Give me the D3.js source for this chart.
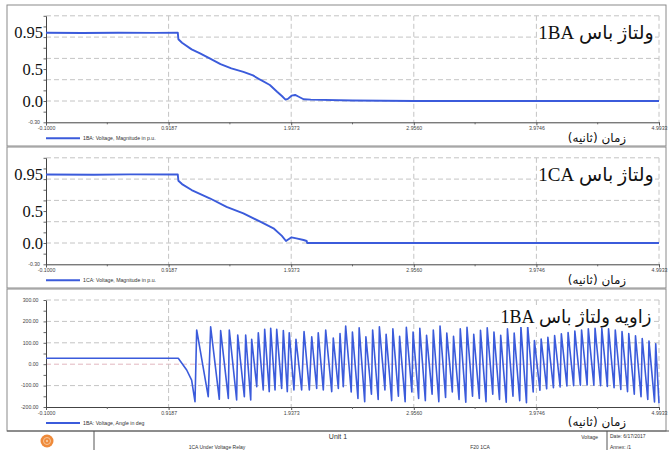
<!DOCTYPE html>
<html><head><meta charset="utf-8">
<script src="https://cdn.jsdelivr.net/npm/d3@7"></script>
<style>html,body{margin:0;padding:0;background:#fff;}svg{display:block;}</style>
</head><body>
<svg id="c" width="669" height="450"></svg>
<script>
// ---------- DATA ----------
const xTicks = [-0.1000, 0.9187, 1.9373, 2.9560, 3.9746, 4.9933];
const xTickLabels = ["-0.1000", "0.9187", "1.9373", "2.9560", "3.9746", "4.9933"];
const magGrid = [0, 0.3, 0.6, 0.9, 1.2];
const magBigVals = [0.97, 0.45, 0.0];
const magBigLabels = ["0.95", "0.5", "0.0"];
const angGrid = [-100, 0, 100, 200, 300];
const angTickVals = [300, 200, 100, 0, -100, -200];
const angTickLabels = ["300.00", "200.00", "100.00", "0.00", "-100.00", "-200.00"];

const baT = [-0.1, 0.2, 0.5, 0.8, 0.995, 1.0, 1.03, 1.11, 1.18, 1.26, 1.35, 1.44, 1.54, 1.62, 1.68, 1.76, 1.82, 1.86, 1.89, 1.91, 1.94, 1.97, 2.0, 2.04, 2.1, 2.45, 2.96, 4.9933];
const baV = [0.962, 0.958, 0.962, 0.960, 0.962, 0.87, 0.82, 0.727, 0.67, 0.60, 0.52, 0.46, 0.41, 0.36, 0.30, 0.225, 0.13, 0.07, 0.02, 0.03, 0.075, 0.085, 0.06, 0.025, 0.02, 0.008, 0.0, 0.0];

const caT = [-0.1, 0.3, 0.6, 0.995, 1.0, 1.03, 1.11, 1.26, 1.40, 1.54, 1.68, 1.79, 1.86, 1.894, 1.94, 1.98, 2.04, 2.066, 2.07, 4.9933];
const caV = [0.965, 0.962, 0.966, 0.965, 0.877, 0.83, 0.746, 0.63, 0.51, 0.418, 0.30, 0.207, 0.10, 0.028, 0.08, 0.066, 0.042, 0.028, 0.0, 0.0];

const angT = [-0.1, 0.999, 1.069, 1.110, 1.138, 1.152, 1.248, 1.268, 1.340, 1.351, 1.415, 1.423, 1.484, 1.493, 1.548, 1.559, 1.601, 1.609, 1.651, 1.664, 1.705, 1.717, 1.755, 1.767, 1.803, 1.817, 1.858, 1.872, 1.905, 1.921, 1.960, 1.977, 2.024, 2.044, 2.088, 2.108, 2.149, 2.162, 2.204, 2.224, 2.274, 2.287, 2.329, 2.343, 2.370, 2.390,
 2.436, 2.446, 2.492, 2.502, 2.548, 2.558, 2.604, 2.614, 2.660, 2.670, 2.716, 2.726, 2.772, 2.782, 2.828, 2.838, 2.884, 2.894, 2.940, 2.950, 2.996, 3.006, 3.052, 3.062, 3.108, 3.118, 3.164, 3.174, 3.220, 3.230, 3.276, 3.286, 3.332, 3.342, 3.388, 3.398, 3.444, 3.454, 3.500, 3.510, 3.556, 3.566, 3.612, 3.622, 3.668, 3.678, 3.724, 3.734, 3.780, 3.790, 3.836, 3.846, 3.892, 3.902, 3.948, 3.958, 4.004, 4.014, 4.060, 4.070, 4.116, 4.126, 4.172, 4.182, 4.228, 4.238, 4.284, 4.294, 4.340, 4.350, 4.396, 4.406, 4.452, 4.462, 4.508, 4.518, 4.564, 4.574, 4.620, 4.630, 4.676, 4.686, 4.732, 4.742, 4.788, 4.798, 4.844, 4.854, 4.900, 4.910, 4.956, 4.966, 4.9933];
const angV = [28, 28, -27, -74, -175, 160, -152, 175, -164, 157, -160, 160, -167, 136, -152, 136, -167, 116, -105, 147, -120, 163, -128, 168, -120, 163, -113, 157, -128, 147, -120, 116, -120, 152, -120, 128, -113, 147, -120, 160, -128, 122, -113, 143, -105, 178,
 -130, 150, -160, 170, -175, 128, -140, 160, -165, 175, -120, 140, -170, 165, -150, 130, -175, 172, -130, 150, -160, 168, -170, 135, -140, 160, -175, 178, -155, 145, -130, 130, -165, 165, -178, 172, -150, 140, -160, 158, -175, 170, -140, 150, -165, 135, -178, 165, -150, 145, -170, 175, -180, 180, -130, 110, -122, 118, -115, 126, -110, 134, -106, 142, -102, 148, -100, 155, -98, 160, -97, 165, -98, 168, -100, 168, -104, 165, -110, 160, -118, 152, -128, 143, -140, 133, -152, 120, -165, 108, -176, 95, -183];

const titles = ["ولتاژ باس 1BA", "ولتاژ باس 1CA", "زاویه ولتاژ باس 1BA"];
const legends = ["1BA: Voltage, Magnitude in p.u.", "1CA: Voltage, Magnitude in p.u.", "1BA: Voltage, Angle in deg"];
const xTitle = "زمان (ثانیه)";

// ---------- DRAW ----------
const svg = d3.select("#c");
const BLUE = "#3b5bdb";
const x = d3.scaleLinear().domain([-0.1, 4.9933]).range([46, 659]);

const panels = [
  {top: 5, bottom: 146, y: d3.scaleLinear().domain([-0.3, 1.2]).range([122.3, 15.8]), grid: magGrid, t: baT, v: baV, kind: "mag"},
  {top: 147, bottom: 288, y: d3.scaleLinear().domain([-0.3, 1.2]).range([264.3, 157.8]), grid: magGrid, t: caT, v: caV, kind: "mag"},
  {top: 289, bottom: 431, y: d3.scaleLinear().domain([-200, 300]).range([407, 300]), grid: angGrid, t: angT, v: angV, kind: "ang"}
];

panels.forEach((p, i) => {
  const g = svg.append("g");
  const y = p.y;
  const [y0, y1] = y.range();
  g.append("rect").attr("x", 7).attr("y", p.top).attr("width", 659).attr("height", p.bottom - p.top)
    .attr("fill", "#fff").attr("stroke", "#8a8a8a").attr("stroke-width", 1);

  // horizontal grid
  g.selectAll(".hg").data(p.grid).enter().append("line")
    .attr("x1", x(-0.1)).attr("x2", x(4.9933))
    .attr("y1", d => y(d)).attr("y2", d => y(d))
    .attr("stroke", d => (p.kind === "ang" && d === 0) ? "#e3b7bf" : "#c4c4c4")
    .attr("stroke-dasharray", "5,3").attr("stroke-width", 1);
  // vertical grid
  g.selectAll(".vg").data(xTicks.slice(1)).enter().append("line")
    .attr("x1", d => x(d)).attr("x2", d => x(d))
    .attr("y1", y1).attr("y2", y0)
    .attr("stroke", "#c4c4c4").attr("stroke-dasharray", "5,3").attr("stroke-width", 1);

  // axes
  const xAxis = d3.axisBottom(x).tickValues(xTicks).tickFormat((d, k) => xTickLabels[k]).tickSize(3).tickPadding(1);
  const xa = g.append("g").attr("transform", `translate(0,${y0})`).call(xAxis);
  xa.select(".domain").attr("stroke", "#444");
  xa.selectAll(".tick line").attr("stroke", "#555");
  xa.selectAll("text").attr("font-family", "Liberation Sans, Arial, sans-serif").attr("font-size", 5.2).attr("fill", "#444");
  // minor x ticks
  const minorX = d3.pairs(xTicks).map(d => (d[0] + d[1]) / 2);
  g.selectAll(".mx").data(minorX).enter().append("line")
    .attr("x1", d => x(d)).attr("x2", d => x(d)).attr("y1", y0).attr("y2", y0 + 2).attr("stroke", "#666");

  const yStep = p.grid[1] - p.grid[0];
  const yMinor = d3.range(y.domain()[0], y.domain()[1] + yStep / 4, yStep / 2);
  const yAxis = d3.axisLeft(y).tickValues(yMinor).tickFormat("").tickSize(2.5).tickSizeOuter(0);
  const ya = g.append("g").attr("transform", `translate(${x(-0.1)},0)`).call(yAxis);
  ya.select(".domain").attr("stroke", "#444");
  ya.selectAll(".tick line").attr("stroke", "#666");

  // y labels
  if (p.kind === "mag") {
    g.append("text").attr("x", 40).attr("y", y0 + 1.5).attr("text-anchor", "end")
      .attr("font-family", "Liberation Sans, Arial, sans-serif").attr("font-size", 5.2).attr("fill", "#444").text("-0.30");
    g.selectAll(".bl").data(magBigVals).enter().append("text")
      .attr("x", 43).attr("y", d => y(d)).attr("dy", "0.35em").attr("text-anchor", "end")
      .attr("font-family", "Liberation Serif, Times New Roman, serif").attr("font-size", 16.5).attr("fill", "#111")
      .text((d, k) => magBigLabels[k]);
  } else {
    g.selectAll(".al").data(angTickVals).enter().append("text")
      .attr("x", 38.5).attr("y", d => y(d)).attr("dy", "0.35em").attr("text-anchor", "end")
      .attr("font-family", "Liberation Sans, Arial, sans-serif").attr("font-size", 5.2).attr("fill", "#444")
      .text((d, k) => angTickLabels[k]);
  }

  // data line
  const pts = p.t.map((t, k) => [t, p.v[k]]);
  g.append("path").datum(pts)
    .attr("d", d3.line().x(d => x(d[0])).y(d => y(d[1])))
    .attr("fill", "none").attr("stroke", BLUE).attr("stroke-width", p.kind === "ang" ? 1.6 : 1.9)
    .attr("stroke-linejoin", "round");

  // title box
  const tcx = p.kind === "ang" ? 576 : 596;
  const tw = p.kind === "ang" ? 154 : 118;
  const fs = p.kind === "ang" ? 18 : 19;
  const tcy = y1 + 17;
  g.append("rect").attr("x", tcx - tw / 2).attr("y", tcy - 10).attr("width", tw).attr("height", 20).attr("fill", "#fff");
  g.append("text").attr("x", tcx).attr("y", tcy).attr("dy", "0.35em")
    .attr("text-anchor", "middle").attr("direction", "rtl")
    .attr("font-family", "Liberation Serif, Times New Roman, DejaVu Sans, serif").attr("font-size", fs).attr("fill", "#111")
    .text(titles[i]);

  // x title
  g.append("text").attr("x", 597).attr("y", y0 + 15).attr("dy", "0.35em")
    .attr("text-anchor", "middle").attr("direction", "rtl")
    .attr("font-family", "DejaVu Sans, sans-serif").attr("font-size", 12).attr("fill", "#111")
    .text(xTitle);

  // legend
  g.append("line").attr("x1", 46).attr("x2", 80).attr("y1", y0 + 16).attr("y2", y0 + 16)
    .attr("stroke", BLUE).attr("stroke-width", 2);
  g.append("text").attr("x", 83).attr("y", y0 + 16).attr("dy", "0.35em")
    .attr("font-family", "Liberation Sans, Arial, sans-serif").attr("font-size", 5.2).attr("fill", "#333")
    .text(legends[i]);
});

// footer
const f = svg.append("g");
f.append("line").attr("x1", 7).attr("x2", 669).attr("y1", 431).attr("y2", 431).attr("stroke", "#555");
f.append("line").attr("x1", 94).attr("x2", 94).attr("y1", 431).attr("y2", 450).attr("stroke", "#555");
f.append("line").attr("x1", 607).attr("x2", 607).attr("y1", 431).attr("y2", 450).attr("stroke", "#555");
f.append("circle").attr("cx", 47).attr("cy", 441).attr("r", 6.5).attr("fill", "#ef8a3a");
f.append("circle").attr("cx", 47).attr("cy", 441).attr("r", 3.5).attr("fill", "none").attr("stroke", "#f8c79a").attr("stroke-width", 1);
f.append("circle").attr("cx", 47).attr("cy", 441).attr("r", 1.2).attr("fill", "#f8c79a");
const ff = "Liberation Sans, Arial, sans-serif";
f.append("text").attr("x", 338).attr("y", 437).attr("dy", "0.35em").attr("text-anchor", "middle").attr("font-family", ff).attr("font-size", 7).attr("fill", "#333").text("Unit 1");
f.append("text").attr("x", 217).attr("y", 447).attr("dy", "0.35em").attr("text-anchor", "middle").attr("font-family", ff).attr("font-size", 5).attr("fill", "#333").text("1CA Under Voltage Relay");
f.append("text").attr("x", 480).attr("y", 447).attr("dy", "0.35em").attr("text-anchor", "middle").attr("font-family", ff).attr("font-size", 5).attr("fill", "#333").text("F20 1CA");
f.append("text").attr("x", 598).attr("y", 437).attr("dy", "0.35em").attr("text-anchor", "end").attr("font-family", ff).attr("font-size", 5).attr("fill", "#333").text("Voltage");
f.append("text").attr("x", 610).attr("y", 436).attr("dy", "0.35em").attr("font-family", ff).attr("font-size", 5).attr("fill", "#333").text("Date: 6/17/2017");
f.append("text").attr("x", 610).attr("y", 447).attr("dy", "0.35em").attr("font-family", ff).attr("font-size", 5).attr("fill", "#333").text("Annex: /1");
</script>
</body></html>
